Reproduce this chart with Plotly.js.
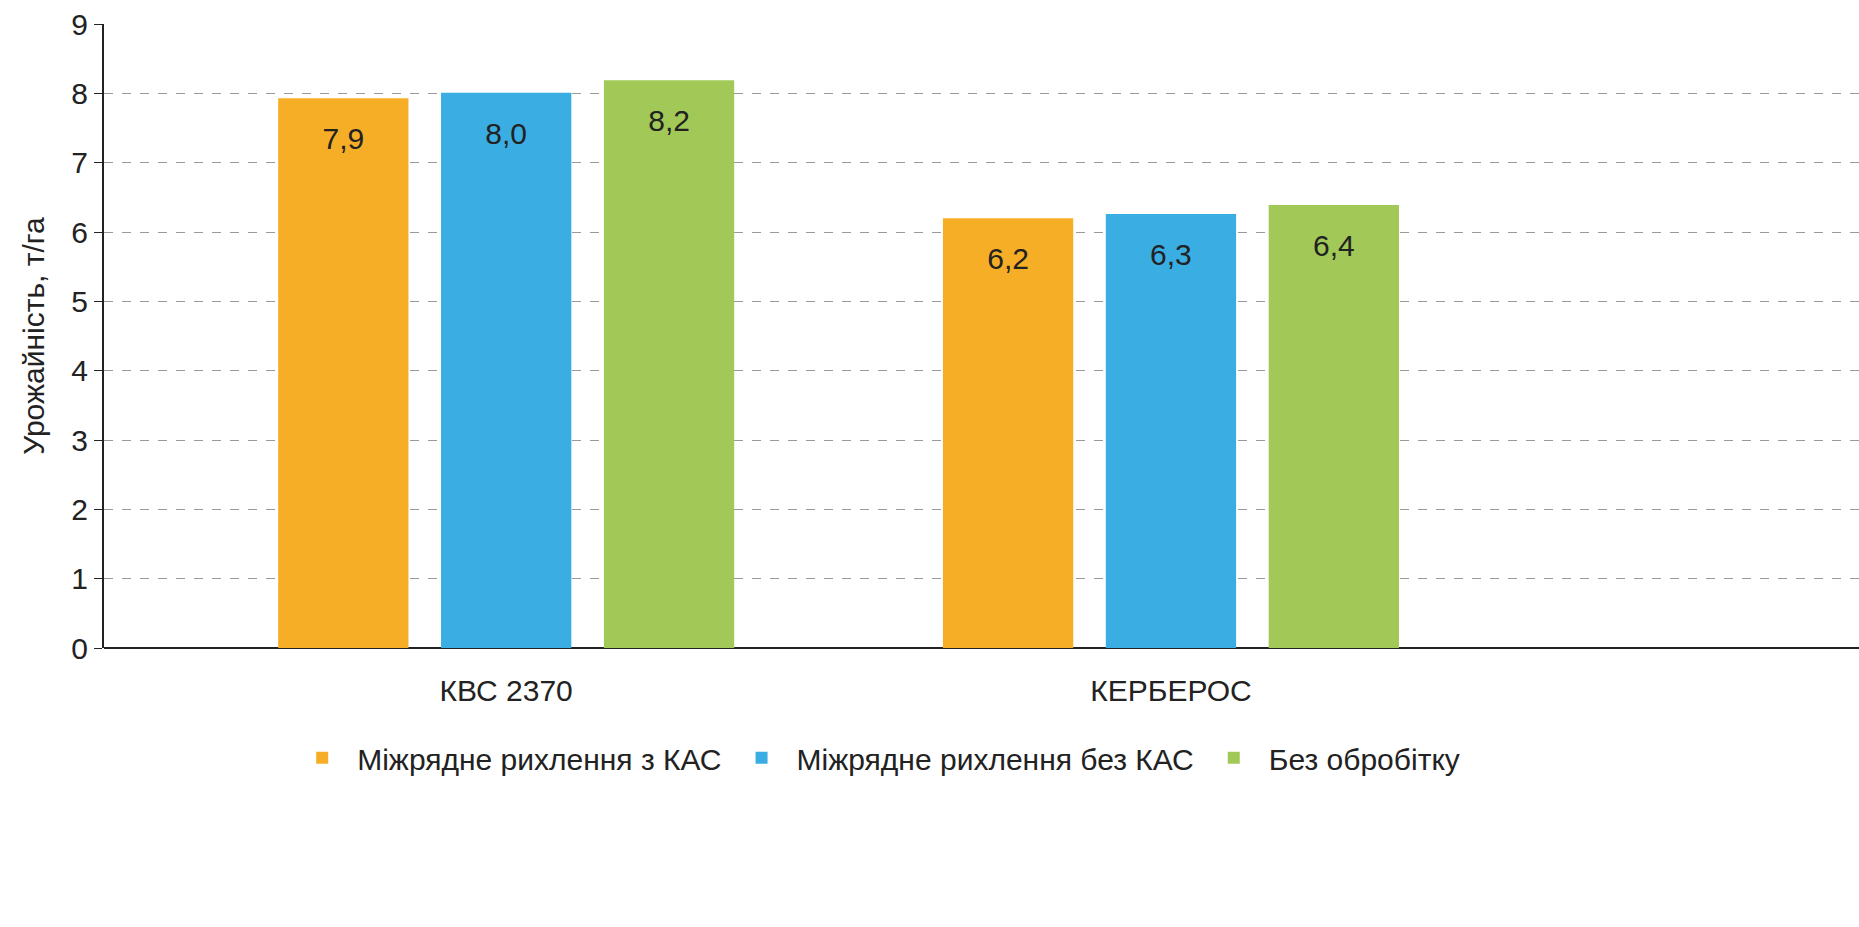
<!DOCTYPE html>
<html>
<head>
<meta charset="utf-8">
<script src="https://cdn.plot.ly/plotly-3.0.1.min.js"></script>
<style>body{margin:0;background:#fff}#graph{width:1859px;height:927px}</style>
</head>
<body>
<div id="graph"></div>
<script>
var categories = ["КВС 2370", "КЕРБЕРОС"];
var seriesNames = ["Міжрядне рихлення з КАС", "Міжрядне рихлення без КАС", "Без обробітку"];
var seriesValues = [
  [7.93, 6.2],
  [8.01, 6.26],
  [8.19, 6.39]
];
var seriesLabels = [
  ["7,9", "6,2"],
  ["8,0", "6,3"],
  ["8,2", "6,4"]
];
var colors = ["#F7AE27", "#3AADE3", "#A2C957"];

var data = seriesNames.map(function (name, i) {
  return {
    type: "bar",
    name: name,
    x: categories,
    y: seriesValues[i],
    // blank first line pushes the value a little below the bar top
    text: seriesLabels[i].map(function (s) { return "<span style='font-size:10px'> </span><br>" + s; }),
    textposition: "inside",
    insidetextanchor: "end",
    textfont: { color: "#222", size: 30 },
    marker: { color: colors[i] },
    hoverinfo: "skip"
  };
});

var layout = {
  width: 1859,
  height: 927,
  margin: { l: 104, r: 0, t: 24, b: 279 },
  font: { family: "Liberation Sans, Arial, sans-serif", size: 30, color: "#222" },
  barmode: "group",
  bargap: 0.265,
  bargroupgap: 0.2,
  plot_bgcolor: "#fff",
  paper_bgcolor: "#fff",
  xaxis: {
    range: [-0.605, 2.035],
    showline: false,
    ticks: "",
    tickfont: { size: 30 },
    ticklabelstandoff: 22,
    showgrid: false,
    zeroline: false
  },
  yaxis: {
    range: [0, 9],
    dtick: 1,
    showgrid: true,
    gridcolor: "#9a9a9a",
    griddash: "dash",
    gridwidth: 1,
    zeroline: true,
    zerolinecolor: "#222",
    zerolinewidth: 2,
    showline: true,
    linecolor: "#222",
    linewidth: 2,
    ticks: "outside",
    ticklen: 8,
    tickcolor: "#222",
    tickfont: { size: 30 },
    title: { text: "Урожайність, т/га", font: { size: 30 }, standoff: 18 }
  },
  legend: {
    orientation: "h",
    x: 0.44,
    xanchor: "center",
    y: -0.176,
    yanchor: "middle",
    font: { size: 30 },
    itemwidth: 60,
    traceorder: "normal"
  }
};

Plotly.newPlot("graph", data, layout, { displayModeBar: false });
</script>
</body>
</html>
